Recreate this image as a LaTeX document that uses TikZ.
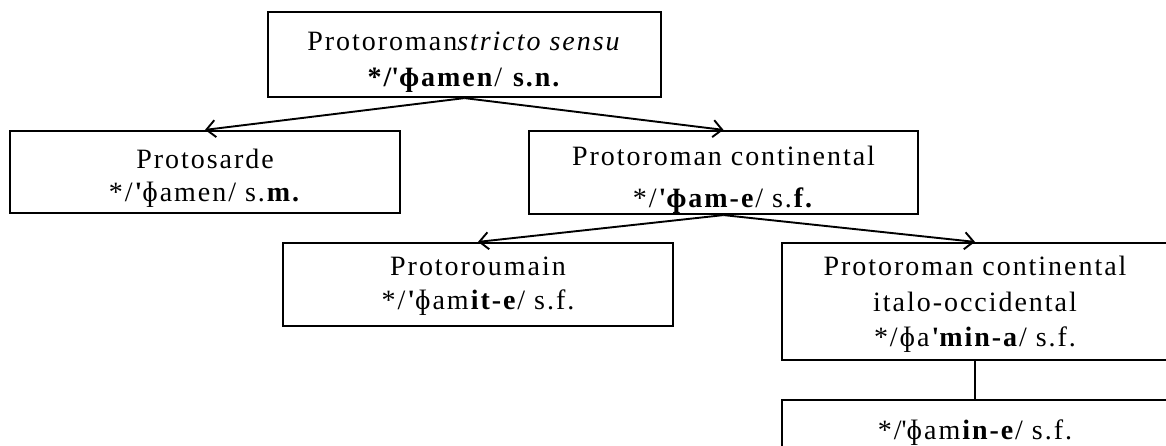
\documentclass[tikz,border=0pt]{standalone}
\usepackage{fontspec}
\setmainfont[LetterSpace=7]{Liberation Serif}
\usetikzlibrary{arrows.meta}
\newcommand{\stress}{\textquotesingle}
\begin{document}
\begin{tikzpicture}[x=1pt,y=-1pt,
  box/.style={draw, line width=2.2pt, inner sep=0pt},
  txt/.style={align=center, inner sep=0pt},
  sz/.style={font=\fontsize{28}{#1}\selectfont},
  link/.style={line width=1.9pt},
  arr/.style={link, -{Straight Barb[length=9pt,width=17pt]}}]
  \useasboundingbox (0,0) rectangle (1166,446);
  \fill[white] (0,0) rectangle (1166,446);
  \clip (0,0) rectangle (1166,446);

  % boxes of the family tree
  \node[box, minimum width=393pt, minimum height=85pt] (top) at (464.5,54.5) {};
  \node[box, minimum width=390pt, minimum height=82pt] (sarde) at (205,172) {};
  \node[box, minimum width=389pt, minimum height=83pt] (cont) at (723.5,172.5) {};
  \node[box, minimum width=390pt, minimum height=83pt] (roum) at (478,284.5) {};
  \node[box, minimum width=386pt, minimum height=117pt] (italo) at (975,301.5) {};
  \node[box, minimum width=386pt, minimum height=62pt] (late) at (975,431) {};

  % reconstructed forms
  \node[txt, sz=36] (topt) at ([yshift=-8pt]top.center)
    {Protoroman\textit{stricto sensu}\\ \textbf{*/\stress ɸamen}/ \textbf{s.n.}};
  \node[txt, sz=33] (sardet) at ([yshift=-6pt]sarde.center)
    {Protosarde\\ */\textbf{\stress}ɸamen/ s.\textbf{m.}};
  \node[txt, sz=42] (contt) at ([yshift=-7pt]cont.center)
    {Protoroman continental\\ */\textbf{\stress ɸam-e}/ s.\textbf{f.}};
  \node[txt, sz=34] (roumt) at ([yshift=-2pt]roum.center)
    {Protoroumain\\ */\textbf{\stress}ɸam\textbf{it-e}/ s.f.};
  \node[txt, sz=35.5] (italot) at ([yshift=-3pt]italo.center)
    {Protoroman continental\\ italo-occidental\\ */ɸa\textbf{\stress min-a}/ s.f.};
  \node[txt, sz=33] (latet) at ([yshift=-2pt]late.center)
    {*/\stress ɸam\textbf{in-e}/ s.f.};

  % descent links
  \draw[arr] (top.south) -- (sarde.north);
  \draw[arr] (top.south) -- (cont.north);
  \draw[arr] (cont.south) -- (roum.north);
  \draw[arr] (cont.south) -- (italo.north);
  \draw[link] (italo.south) -- (late.north);
\end{tikzpicture}
\end{document}
